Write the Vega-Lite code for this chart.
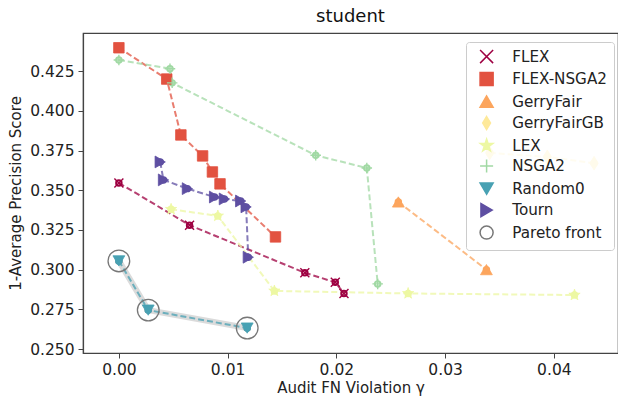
{
  "$schema": "https://vega.github.io/schema/vega-lite/v6.json",
  "width": 535,
  "height": 320,
  "autosize": {"type": "none"},
  "padding": {"left": 83, "top": 33, "right": 0, "bottom": 45},
  "background": "white",
  "title": {"text": "student", "fontSize": 18, "fontWeight": "normal", "font": "DejaVu Sans", "offset": 7, "color": "#111"},
  "config": {
    "view": {"stroke": "#444", "strokeWidth": 1.2},
    "axis": {"labelFont": "DejaVu Sans", "titleFont": "DejaVu Sans", "labelFontSize": 15.5, "titleFontSize": 15, "titleFontWeight": "normal", "labelColor": "#222", "titleColor": "#222", "domainColor": "#444", "domainWidth": 1.2, "tickColor": "#444", "tickSize": 5, "tickWidth": 1, "grid": false},
    "legend": {"labelFont": "DejaVu Sans", "labelFontSize": 15.2, "labelColor": "#222"}
  },
  "data": {"values": [
    {"method": "FLEX", "x": 0.0, "y": 0.3546, "pareto": false},
    {"method": "FLEX", "x": 0.0065, "y": 0.328, "pareto": false},
    {"method": "FLEX", "x": 0.0171, "y": 0.298, "pareto": false},
    {"method": "FLEX", "x": 0.0199, "y": 0.292, "pareto": false},
    {"method": "FLEX", "x": 0.0207, "y": 0.285, "pareto": false},
    {"method": "FLEX-NSGA2", "x": 0.0, "y": 0.4397, "pareto": false},
    {"method": "FLEX-NSGA2", "x": 0.0044, "y": 0.420, "pareto": false},
    {"method": "FLEX-NSGA2", "x": 0.0057, "y": 0.3848, "pareto": false},
    {"method": "FLEX-NSGA2", "x": 0.0077, "y": 0.3716, "pareto": false},
    {"method": "FLEX-NSGA2", "x": 0.0086, "y": 0.3615, "pareto": false},
    {"method": "FLEX-NSGA2", "x": 0.0093, "y": 0.354, "pareto": false},
    {"method": "FLEX-NSGA2", "x": 0.0144, "y": 0.3206, "pareto": false},
    {"method": "GerryFair", "x": 0.0257, "y": 0.3426, "pareto": false},
    {"method": "GerryFair", "x": 0.0338, "y": 0.300, "pareto": false},
    {"method": "GerryFairGB", "x": 0.0341, "y": 0.3735, "pareto": false},
    {"method": "GerryFairGB", "x": 0.0394, "y": 0.371, "pareto": false},
    {"method": "GerryFairGB", "x": 0.0437, "y": 0.367, "pareto": false},
    {"method": "LEX", "x": 0.0048, "y": 0.338, "pareto": false},
    {"method": "LEX", "x": 0.0091, "y": 0.3338, "pareto": false},
    {"method": "LEX", "x": 0.0143, "y": 0.2866, "pareto": false},
    {"method": "LEX", "x": 0.0266, "y": 0.285, "pareto": false},
    {"method": "LEX", "x": 0.0419, "y": 0.284, "pareto": false},
    {"method": "NSGA2", "x": 0.0, "y": 0.432, "pareto": false},
    {"method": "NSGA2", "x": 0.0047, "y": 0.4265, "pareto": false},
    {"method": "NSGA2", "x": 0.0049, "y": 0.4176, "pareto": false},
    {"method": "NSGA2", "x": 0.0181, "y": 0.372, "pareto": false},
    {"method": "NSGA2", "x": 0.0228, "y": 0.364, "pareto": false},
    {"method": "NSGA2", "x": 0.0238, "y": 0.291, "pareto": false},
    {"method": "Random0", "x": 0.0, "y": 0.3055, "pareto": true},
    {"method": "Random0", "x": 0.0027, "y": 0.2745, "pareto": true},
    {"method": "Random0", "x": 0.0118, "y": 0.2632, "pareto": true},
    {"method": "Tourn", "x": 0.0038, "y": 0.3678, "pareto": false},
    {"method": "Tourn", "x": 0.0041, "y": 0.3565, "pareto": false},
    {"method": "Tourn", "x": 0.0063, "y": 0.351, "pareto": false},
    {"method": "Tourn", "x": 0.0088, "y": 0.3457, "pareto": false},
    {"method": "Tourn", "x": 0.0097, "y": 0.3445, "pareto": false},
    {"method": "Tourn", "x": 0.0112, "y": 0.3432, "pareto": false},
    {"method": "Tourn", "x": 0.0117, "y": 0.3395, "pareto": false},
    {"method": "Tourn", "x": 0.0119, "y": 0.3078, "pareto": false}
  ]},
  "encoding": {
    "x": {"field": "x", "type": "quantitative", "title": "Audit FN Violation γ",
      "scale": {"domain": [-0.0033, 0.0459], "nice": false, "zero": false},
      "axis": {"values": [0, 0.01, 0.02, 0.03, 0.04], "format": ".2f", "labelPadding": 4, "titlePadding": 3}},
    "y": {"field": "y", "type": "quantitative", "title": "1-Average Precision Score",
      "scale": {"domain": [0.2475, 0.449], "nice": false, "zero": false},
      "axis": {"values": [0.25, 0.275, 0.3, 0.325, 0.35, 0.375, 0.4, 0.425], "format": ".3f", "labelPadding": 4, "titlePadding": 6}},
    "stroke": {"field": "method", "type": "nominal",
      "legend": {"title": null, "orient": "none", "legendX": 383, "legendY": 9,
        "fillColor": "rgba(255,255,255,0.8)", "strokeColor": "#cccccc", "cornerRadius": 3, "padding": 7,
        "rowPadding": 2.5, "symbolSize": 170, "symbolOffset": 6, "labelOffset": 18, "symbolOpacity": 1, "symbolStrokeWidth": 1.5},
      "scale": {"domain": ["FLEX", "FLEX-NSGA2", "GerryFair", "GerryFairGB", "LEX", "NSGA2", "Random0", "Tourn", "Pareto front"],
                "range": ["#9e0142", "#e25240", "#fca55d", "#fee99a", "#edf8a3", "#a1d9a4", "#48a1b3", "#5e4fa2", "#777777"]}},
    "fill": {"field": "method", "type": "nominal",
      "legend": {"title": null, "orient": "none", "legendX": 383, "legendY": 9,
        "fillColor": "rgba(255,255,255,0.8)", "strokeColor": "#cccccc", "cornerRadius": 3, "padding": 7,
        "rowPadding": 2.5, "symbolSize": 170, "symbolOffset": 6, "labelOffset": 18, "symbolOpacity": 1, "symbolStrokeWidth": 1.5},
      "scale": {"domain": ["FLEX", "FLEX-NSGA2", "GerryFair", "GerryFairGB", "LEX", "NSGA2", "Random0", "Tourn", "Pareto front"],
                "range": ["transparent", "#e25240", "#fca55d", "#fee99a", "#edf8a3", "transparent", "#48a1b3", "#5e4fa2", "transparent"]}},
    "shape": {"field": "method", "type": "nominal",
      "legend": {"title": null, "orient": "none", "legendX": 383, "legendY": 9,
        "fillColor": "rgba(255,255,255,0.8)", "strokeColor": "#cccccc", "cornerRadius": 3, "padding": 7,
        "rowPadding": 2.5, "symbolSize": 170, "symbolOffset": 6, "labelOffset": 18, "symbolOpacity": 1, "symbolStrokeWidth": 1.5},
      "scale": {"domain": ["FLEX", "FLEX-NSGA2", "GerryFair", "GerryFairGB", "LEX", "NSGA2", "Random0", "Tourn", "Pareto front"],
                "range": ["M-1,-1L1,1M-1,1L1,-1", "square", "triangle-up", "M0,-1L0.6,0L0,1L-0.6,0Z", "M0,-1L0.2245,-0.309L0.951,-0.309L0.363,0.118L0.588,0.809L0,0.382L-0.588,0.809L-0.363,0.118L-0.951,-0.309L-0.2245,-0.309Z", "M-1,0L1,0M0,-1L0,1", "triangle-down", "triangle-right", "circle"]}}
  },
  "layer": [
    {
      "transform": [{"filter": "datum.pareto"}],
      "mark": {"type": "line", "strokeWidth": 6, "opacity": 0.3, "strokeCap": "round", "strokeJoin": "round"},
      "encoding": {"order": {"field": "x", "type": "quantitative"}, "stroke": {"value": "#8a8a8a"}, "fill": {"value": "transparent"}, "shape": {"value": "circle"}}
    },
    {
      "mark": {"type": "line", "strokeDash": [6, 3], "strokeWidth": 2, "opacity": 0.75},
      "encoding": {
        "order": {"field": "x", "type": "quantitative"},
        "detail": {"field": "method", "type": "nominal"},
        "fill": {"value": "transparent"},
        "shape": {"value": "circle"}
      }
    },
    {
      "transform": [{"filter": "datum.method !== 'FLEX' && datum.method !== 'NSGA2'"}],
      "mark": {"type": "point", "filled": true, "opacity": 1, "strokeWidth": 0.8},
      "encoding": {
        "size": {"condition": [
          {"test": "datum.method === 'FLEX-NSGA2'", "value": 110},
          {"test": "datum.method === 'GerryFairGB'", "value": 190}
        ], "value": 140}
      }
    },
    {
      "transform": [{"filter": "datum.method === 'FLEX' || datum.method === 'NSGA2'"}],
      "mark": {"type": "point", "filled": false, "opacity": 1, "strokeWidth": 1.4, "strokeCap": "butt", "strokeJoin": "miter"},
      "encoding": {
        "fill": {"value": "transparent"},
        "shape": {"condition": {"test": "datum.method === 'FLEX'", "value": "M-1,-1L1,1M-1,1L1,-1"}, "value": "M-1,0L1,0M0,-1L0,1"},
        "size": {"condition": {"test": "datum.method === 'FLEX'", "value": 81}, "value": 110}
      }
    },
    {
      "transform": [{"filter": "datum.pareto"}],
      "mark": {"type": "point", "strokeWidth": 1.3, "size": 470, "opacity": 1},
      "encoding": {"stroke": {"value": "#777777"}, "fill": {"value": "transparent"}, "shape": {"value": "circle"}}
    }
  ]
}
